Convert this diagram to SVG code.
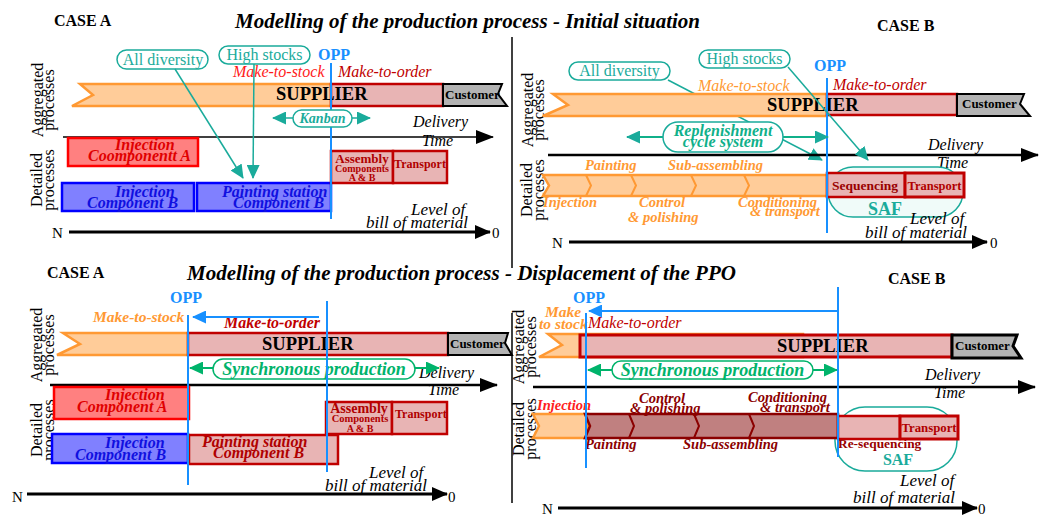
<svg xmlns="http://www.w3.org/2000/svg" width="1040" height="515" viewBox="0 0 1040 515">
<style>
text{font-family:"Liberation Serif","Times New Roman",serif}
.ttl{font-weight:bold;font-style:italic;font-size:21px;fill:#000}
.case{font-weight:bold;font-size:16px;fill:#000}
.rot{font-size:16px;fill:#000}
.tbox{fill:#fff;stroke:#1aab9b;stroke-width:1.5}
.ttxt{font-size:16px;fill:#1aab9b}
.opp{font-weight:bold;font-size:16px;fill:#1890ff}
.oline{stroke:#1890ff;stroke-width:2;fill:none}
.mtsR{font-style:italic;font-size:16px;fill:#ff1a1a}
.mtsO{font-style:italic;font-size:16px;fill:#ff9933}
.mtsOB{font-style:italic;font-weight:bold;font-size:15.5px;fill:#ff9933}
.mto{font-style:italic;font-size:16px;fill:#c00000}
.mtoB{font-style:italic;font-weight:bold;font-size:16px;fill:#c00000}
.orib{fill:#ffcc99;stroke:#ff9933;stroke-width:2.5}
.pink{fill:#e8b4b4;stroke:#c00000;stroke-width:2.5}
.pink3{fill:#e8b4b4;stroke:#c00000;stroke-width:3}
.cust{fill:#b3b3b3;stroke:#000;stroke-width:2}
.sup{font-weight:bold;font-size:18.5px;fill:#000}
.ctx{font-weight:bold;font-size:13px;fill:#000}
.ax{stroke:#000;stroke-width:1.5;fill:none}
.ax2{stroke:#000;stroke-width:2.5;fill:none}
.ax3{stroke:#000;stroke-width:3;fill:none}
.axl{font-style:italic;font-size:16px;fill:#000}
.lvl{font-style:italic;font-size:17px;fill:#000}
.nz{font-size:15px;fill:#000}
.redb{fill:#ff8080;stroke:#ff0000;stroke-width:2.5}
.blub{fill:#8080ff;stroke:#0000ff;stroke-width:2.5}
.redt{font-weight:bold;font-style:italic;font-size:16px;fill:#e00000}
.blut{font-weight:bold;font-style:italic;font-size:16px;fill:#1010e0}
.drt{font-weight:bold;font-style:italic;font-size:16px;fill:#b00000}
.asm{font-weight:bold;fill:#b00000}
.tline{stroke:#1aab9b;stroke-width:1.5;fill:none}
.rline{stroke:#10b08a;stroke-width:2;fill:none}
.gline{stroke:#00b36b;stroke-width:2;fill:none}
.gbox{fill:#fff;stroke:#00b36b;stroke-width:1.5}
.gtxt{font-weight:bold;font-style:italic;font-size:18px;fill:#00b36b}
.kan{font-weight:bold;font-style:italic;font-size:14px;fill:#1aab9b}
.rep{font-weight:bold;font-style:italic;font-size:16px;fill:#10b08a}
.olab{font-weight:bold;font-style:italic;font-size:14.5px;fill:#ff9933}
.ilab{font-weight:bold;font-style:italic;font-size:14.5px;fill:#ff2020}
.dlab{font-weight:bold;font-style:italic;font-size:14.5px;fill:#8b0000}
.chevO{stroke:#ff9933;stroke-width:2;fill:none}
.chevD{stroke:#8b0000;stroke-width:2;fill:none}
.drib{fill:#c08080;stroke:#8b0000;stroke-width:2.5}
.saf{fill:#f0fbf9;stroke:#1aab9b;stroke-width:1.5}
.safw{fill:#fff;stroke:#1aab9b;stroke-width:1.5}
.saft{font-weight:bold;fill:#1aab9b}
.seq{font-weight:bold;fill:#990000}
.div{stroke:#000;stroke-width:1.5}
</style>
<defs>
<marker id="aBlk" markerUnits="userSpaceOnUse" markerWidth="18" markerHeight="14" refX="17" refY="7" orient="auto"><path d="M0,0 L18,7 L0,14 Z" fill="#000"/></marker>
<marker id="aBlkS" markerUnits="userSpaceOnUse" markerWidth="16" markerHeight="14" refX="15" refY="7" orient="auto"><path d="M0,0 L16,7 L0,14 Z" fill="#000"/></marker>
<marker id="aTeal" markerUnits="userSpaceOnUse" markerWidth="14" markerHeight="13" refX="13" refY="6.5" orient="auto-start-reverse"><path d="M0,0 L14,6.5 L0,13 Z" fill="#1aab9b"/></marker>
<marker id="aGrn" markerUnits="userSpaceOnUse" markerWidth="14" markerHeight="13" refX="13" refY="6.5" orient="auto-start-reverse"><path d="M0,0 L14,6.5 L0,13 Z" fill="#00b36b"/></marker>
<marker id="aBlue" markerUnits="userSpaceOnUse" markerWidth="14" markerHeight="13" refX="13" refY="6.5" orient="auto"><path d="M0,0 L14,6.5 L0,13 Z" fill="#1890ff"/></marker>
</defs>

<!-- dividers -->
<line class="div" x1="512" y1="37" x2="512" y2="268"/>
<line class="div" x1="512" y1="313" x2="512" y2="503"/>

<!-- titles -->
<text class="ttl" x="235" y="28">Modelling of the production process - Initial situation</text>
<text class="ttl" x="187" y="280">Modelling of the production process - Displacement of the PPO</text>
<text class="case" x="54" y="26">CASE A</text>
<text class="case" x="877" y="31">CASE B</text>
<text class="case" x="47" y="278">CASE A</text>
<text class="case" x="888" y="284">CASE B</text>

<!-- rotated labels -->
<g id="labels-rot">
<text class="rot" text-anchor="middle" transform="translate(42.5,100) rotate(-90)">Aggregated</text>
<text class="rot" text-anchor="middle" transform="translate(54,100) rotate(-90)">processes</text>
<text class="rot" text-anchor="middle" transform="translate(42,180) rotate(-90)">Detailed</text>
<text class="rot" text-anchor="middle" transform="translate(53.5,180) rotate(-90)">processes</text>
<text class="rot" text-anchor="middle" transform="translate(532.5,110) rotate(-90)">Aggregated</text>
<text class="rot" text-anchor="middle" transform="translate(544,110) rotate(-90)">processes</text>
<text class="rot" text-anchor="middle" transform="translate(532,190) rotate(-90)">Detailed</text>
<text class="rot" text-anchor="middle" transform="translate(543.5,190) rotate(-90)">processes</text>
<text class="rot" text-anchor="middle" transform="translate(42,345) rotate(-90)">Aggregated</text>
<text class="rot" text-anchor="middle" transform="translate(54,345) rotate(-90)">processes</text>
<text class="rot" text-anchor="middle" transform="translate(42,430) rotate(-90)">Detailed</text>
<text class="rot" text-anchor="middle" transform="translate(53.5,430) rotate(-90)">processes</text>
<text class="rot" text-anchor="middle" transform="translate(524,347) rotate(-90)">Aggregated</text>
<text class="rot" text-anchor="middle" transform="translate(536,347) rotate(-90)">processes</text>
<text class="rot" text-anchor="middle" transform="translate(524,429) rotate(-90)">Detailed</text>
<text class="rot" text-anchor="middle" transform="translate(536,429) rotate(-90)">processes</text>
</g>

<!-- connectors drawn behind the nodes -->
<g id="connectors-back">
<line class="tline" x1="668" y1="80" x2="822" y2="160" marker-end="url(#aTeal)"/>
</g>

<!-- ===== TOP LEFT ===== -->
<g id="tl-axes">
<line class="ax" x1="63" y1="137" x2="493" y2="137" marker-end="url(#aBlk)"/>
<text class="axl" x="413" y="127">Delivery</text>
<text class="axl" x="422" y="146">Time</text>
<line class="ax3" x1="69" y1="232" x2="490" y2="232" marker-end="url(#aBlkS)"/>
<text class="nz" x="52" y="238">N</text>
<text class="nz" x="492" y="238">0</text>
<text class="lvl" x="411" y="215">Level of</text>
<text class="lvl" x="366" y="228">bill of material</text>
</g>
<g id="tl-supplier">
<path class="orib" d="M80,84 L331,84 L331,106 L72,106 L93,95 Z"/>
<rect class="pink" x="331" y="84" width="112" height="22"/>
<text class="sup" x="276" y="100">SUPPLIER</text>
</g>
<g id="tl-customer">
<path class="cust" d="M443,84 L502,84 L498,94 L507,106 L443,106 Z"/>
<text class="ctx" x="445" y="99">Customer</text>
</g>
<g id="tl-mode">
<text class="mtsR" x="233" y="77">Make-to-stock</text>
<text class="mto" x="338" y="77">Make-to-order</text>
</g>
<g id="tl-injA">
<rect class="redb" x="68" y="138" width="130" height="28"/>
<text class="redt" x="115" y="150">Injection</text>
<text class="redt" x="88" y="161">Coomponentt A</text>
</g>
<g id="tl-injB">
<rect class="blub" x="62" y="183" width="132" height="28"/>
<text class="blut" x="115" y="197">Injection</text>
<text class="blut" x="87" y="208">Component B</text>
</g>
<g id="tl-paint">
<rect class="blub" x="197" y="183" width="134" height="28"/>
<text class="blut" x="222" y="197">Painting station</text>
<text class="blut" x="233" y="208">Component B</text>
</g>
<g id="tl-assembly">
<rect class="pink" x="331" y="151" width="62" height="32"/>
<text class="asm" x="362" y="163" font-size="13" text-anchor="middle">Assembly</text>
<text class="asm" x="362" y="172" font-size="10" text-anchor="middle">Components</text>
<text class="asm" x="362" y="181" font-size="10" text-anchor="middle">A &amp; B</text>
</g>
<g id="tl-transport">
<rect class="pink" x="393" y="151" width="54" height="32"/>
<text class="asm" x="420" y="168" font-size="12" text-anchor="middle">Transport</text>
</g>
<g id="tl-diversity">
<rect class="tbox" x="117" y="50" width="91" height="19" rx="9.5"/>
<text class="ttxt" x="163" y="65" text-anchor="middle">All diversity</text>
</g>
<g id="tl-stocks">
<rect class="tbox" x="219" y="46" width="91" height="18" rx="9"/>
<text class="ttxt" x="264.5" y="60" text-anchor="middle">High stocks</text>
</g>
<g id="tl-opp">
<text class="opp" x="318" y="60">OPP</text>
<line class="oline" x1="331" y1="63" x2="331" y2="219"/>
</g>
<g id="tl-kanban">
<line class="tline" x1="273" y1="118" x2="370" y2="118" stroke-width="2" marker-start="url(#aTeal)" marker-end="url(#aTeal)"/>
<rect class="tbox" x="293" y="110" width="59" height="17" rx="8.5"/>
<text class="kan" x="322.5" y="123" text-anchor="middle">Kanban</text>
</g>

<!-- ===== TOP RIGHT ===== -->
<g id="tr-axes">
<line class="ax2" x1="548" y1="155" x2="1038" y2="155" marker-end="url(#aBlk)"/>
<text class="axl" x="928" y="150">Delivery</text>
<text class="axl" x="937" y="168">Time</text>
<line class="ax3" x1="569" y1="242" x2="987" y2="242" marker-end="url(#aBlkS)"/>
<text class="nz" x="552" y="248">N</text>
<text class="nz" x="990" y="248">0</text>
</g>
<g id="tr-supplier">
<path class="orib" d="M553,94 L827,94 L827,116 L543,116 L568,105 Z"/>
<rect class="pink" x="827" y="94" width="130" height="21"/>
<text class="sup" x="767" y="111" font-size="20">SUPPLIER</text>
</g>
<g id="tr-customer">
<path class="cust" d="M957,94 L1024,94 L1020,104 L1030,116 L957,116 Z"/>
<text class="ctx" x="962" y="108">Customer</text>
</g>
<g id="tr-mode">
<text class="mtsO" x="698" y="91">Make-to-stock</text>
<text class="mto" x="833" y="90">Make-to-order</text>
</g>
<g id="tr-chain">
<path class="orib" d="M543,175 L827,175 L827,196 L543,196 L549,185.5 Z"/>
<path class="chevO" d="M586,175 L591,185.5 L586,196 M631,175 L636,185.5 L631,196 M691,175 L696,185.5 L691,196 M744,175 L749,185.5 L744,196"/>
<text class="olab" x="585" y="170">Painting</text>
<text class="olab" x="668" y="170">Sub-assembling</text>
<text class="olab" x="543" y="207">Injection</text>
<text class="olab" x="639" y="207">Control</text>
<text class="olab" x="628" y="222">&amp; polishing</text>
<text class="olab" x="738" y="207">Conditioning</text>
<text class="olab" x="750" y="216">&amp; transport</text>
</g>
<g id="tr-saf">
<rect class="saf" x="828" y="167" width="135" height="50" rx="25"/>
<text class="saft" x="885" y="215" font-size="18" text-anchor="middle">SAF</text>
</g>
<g id="tr-sequencing">
<rect class="pink" x="827" y="173" width="78" height="24"/>
<text class="seq" x="832" y="190" font-size="13.5">Sequencing</text>
</g>
<g id="tr-transport">
<rect class="pink3" x="905" y="173" width="59" height="24"/>
<text class="asm" x="934.5" y="190" font-size="12.5" text-anchor="middle">Transport</text>
</g>
<g id="tr-level">
<text class="lvl" x="910" y="224">Level of</text>
<text class="lvl" x="865" y="238">bill of material</text>
</g>
<g id="tr-diversity">
<rect class="tbox" x="569" y="62" width="101" height="18" rx="9"/>
<text class="ttxt" x="619.5" y="76" text-anchor="middle" font-size="17">All diversity</text>
</g>
<g id="tr-stocks">
<rect class="tbox" x="699" y="50" width="91" height="18" rx="9"/>
<text class="ttxt" x="744.5" y="64" text-anchor="middle" font-size="17">High stocks</text>
</g>
<g id="tr-opp">
<text class="opp" x="814" y="71">OPP</text>
<line class="oline" x1="827" y1="78" x2="827" y2="233"/>
</g>

<!-- ===== BOTTOM LEFT ===== -->
<g id="bl-axes">
<line class="ax2" x1="50" y1="385" x2="497" y2="385" marker-end="url(#aBlk)"/>
<text class="axl" x="419" y="378">Delivery</text>
<text class="axl" x="428" y="395">Time</text>
<line class="ax3" x1="27" y1="494" x2="447" y2="494" marker-end="url(#aBlkS)"/>
<text class="nz" x="12" y="502">N</text>
<text class="nz" x="448" y="502">0</text>
<text class="lvl" x="369" y="478">Level of</text>
<text class="lvl" x="325" y="491">bill of material</text>
</g>
<g id="bl-supplier">
<path class="orib" d="M63,333 L188,333 L188,355 L57,355 L80,344 Z"/>
<rect class="pink" x="188" y="333" width="260" height="22"/>
<text class="sup" x="262" y="350">SUPPLIER</text>
</g>
<g id="bl-customer">
<path class="cust" d="M448,333 L508,333 L505,343 L512,355 L448,355 Z"/>
<text class="ctx" x="450" y="348">Customer</text>
</g>
<g id="bl-mode">
<text class="mtsOB" x="93" y="322">Make-to-stock</text>
<text class="mtoB" x="224" y="328">Make-to-order</text>
</g>
<g id="bl-injA">
<rect class="redb" x="54" y="387" width="135" height="32"/>
<text class="redt" x="105" y="400">Injection</text>
<text class="redt" x="77" y="412">Component A</text>
</g>
<g id="bl-injB">
<rect class="blub" x="52" y="434" width="136" height="29"/>
<text class="blut" x="105" y="448">Injection</text>
<text class="blut" x="75" y="460">Component B</text>
</g>
<g id="bl-paint">
<rect class="pink" x="189" y="435" width="149" height="29"/>
<text class="drt" x="202" y="447" font-size="17">Painting station</text>
<text class="drt" x="213" y="458">Component B</text>
</g>
<g id="bl-assembly">
<rect class="pink" x="326" y="402" width="66" height="32"/>
<text class="asm" x="359" y="413" font-size="14" text-anchor="middle">Assembly</text>
<text class="asm" x="360" y="422" font-size="10.5" text-anchor="middle">Components</text>
<text class="asm" x="360" y="432" font-size="10" text-anchor="middle">A &amp; B</text>
</g>
<g id="bl-transport">
<rect class="pink" x="392" y="402" width="55" height="32"/>
<text class="asm" x="395" y="418" font-size="12">Transport</text>
</g>
<g id="bl-sync">
<line class="gline" x1="190" y1="368" x2="439" y2="368" marker-start="url(#aGrn)" marker-end="url(#aGrn)"/>
<rect class="gbox" x="213" y="359" width="202" height="20" rx="10"/>
<text class="gtxt" x="314" y="375" text-anchor="middle">Synchronous production</text>
</g>
<g id="bl-opp">
<text class="opp" x="170" y="303">OPP</text>
<line class="oline" x1="188" y1="315" x2="188" y2="485"/>
<line class="oline" x1="327" y1="301" x2="327" y2="472"/>
</g>

<!-- ===== BOTTOM RIGHT ===== -->
<g id="br-axes">
<line class="ax2" x1="533" y1="387" x2="1035" y2="387" marker-end="url(#aBlk)"/>
<text class="axl" x="925" y="380">Delivery</text>
<text class="axl" x="934" y="398">Time</text>
<line class="ax3" x1="558" y1="508" x2="977" y2="508" marker-end="url(#aBlkS)"/>
<text class="nz" x="542" y="514">N</text>
<text class="nz" x="978" y="514">0</text>
<text class="lvl" x="900" y="486">Level of</text>
<text class="lvl" x="853" y="503">bill of material</text>
</g>
<g id="br-supplier">
<path class="orib" d="M548,334 L803,334 L803,357 L539,357 L562,345 Z"/>
<rect class="pink3" x="580" y="335" width="372" height="22"/>
<text class="sup" x="777" y="352">SUPPLIER</text>
</g>
<g id="br-customer">
<path class="cust" d="M952,335 L1017,335 L1013,346 L1021,358 L952,358 Z" style="stroke-width:3"/>
<text class="ctx" x="955" y="350">Customer</text>
</g>
<g id="br-mode">
<text class="mtsOB" x="545" y="317">Make</text>
<text class="mtsOB" x="539" y="329">to stock</text>
<text class="mto" x="588" y="328">Make-to-order</text>
</g>
<g id="br-saf">
<rect class="safw" x="835" y="407" width="122" height="64" rx="30"/>
<text class="saft" x="898" y="465" font-size="16" text-anchor="middle">SAF</text>
</g>
<g id="br-chain">
<path class="orib" d="M533,414 L588,414 L588,438 L533,438 L539,426 Z"/>
<path class="drib" d="M585,414 L838,414 L838,438 L585,438 L590,426 Z"/>
<path class="chevD" d="M629,414 L634,426 L629,438 M694,414 L699,426 L694,438 M749,414 L754,426 L749,438"/>
<text class="ilab" x="537" y="410">Injection</text>
<text class="dlab" x="639" y="403">Control</text>
<text class="dlab" x="630" y="413">&amp; polishing</text>
<text class="dlab" x="748" y="402">Conditioning</text>
<text class="dlab" x="760" y="412">&amp; transport</text>
<text class="dlab" x="585" y="449">Painting</text>
<text class="dlab" x="683" y="449">Sub-assembling</text>
</g>
<g id="br-reseq">
<rect class="pink" x="838" y="416" width="62" height="23"/>
<text class="seq" x="838" y="448" font-size="13.4">Re-sequencing</text>
</g>
<g id="br-transport">
<rect class="pink3" x="900" y="416" width="58" height="23"/>
<text class="asm" x="929" y="432" font-size="12.8" text-anchor="middle">Transport</text>
</g>
<g id="br-sync">
<line class="gline" x1="588" y1="370" x2="837" y2="370" marker-start="url(#aGrn)" marker-end="url(#aGrn)"/>
<rect class="gbox" x="612" y="361" width="201" height="18" rx="9"/>
<text class="gtxt" x="712.5" y="376" text-anchor="middle">Synchronous production</text>
</g>
<g id="br-opp">
<text class="opp" x="573" y="303">OPP</text>
<line class="oline" x1="586" y1="313" x2="586" y2="468"/>
<line class="oline" x1="838" y1="287" x2="838" y2="457"/>
</g>

<!-- ===== CONNECTORS ===== -->
<g id="connectors">
<line class="tline" x1="175" y1="69" x2="243" y2="178" marker-end="url(#aTeal)"/>
<line class="tline" x1="254" y1="64" x2="253" y2="178" marker-end="url(#aTeal)"/>
<line class="tline" x1="788" y1="67" x2="868" y2="160" marker-end="url(#aTeal)"/>
<line class="oline" x1="319" y1="317" x2="193" y2="317" marker-end="url(#aBlue)"/>
<line class="oline" x1="838" y1="311" x2="589" y2="311" marker-end="url(#aBlue)"/>
<line class="rline" x1="663" y1="137" x2="627" y2="137" marker-end="url(#aTeal)"/>
<line class="rline" x1="783" y1="137" x2="828" y2="137" marker-end="url(#aTeal)"/>
</g>
<g id="tr-replenishment">
<rect class="tbox" x="663" y="122" width="120" height="30" rx="15"/>
<text class="rep" x="723" y="136" text-anchor="middle">Replenishment</text>
<text class="rep" x="723" y="147" text-anchor="middle">cycle system</text>
</g>
</svg>
